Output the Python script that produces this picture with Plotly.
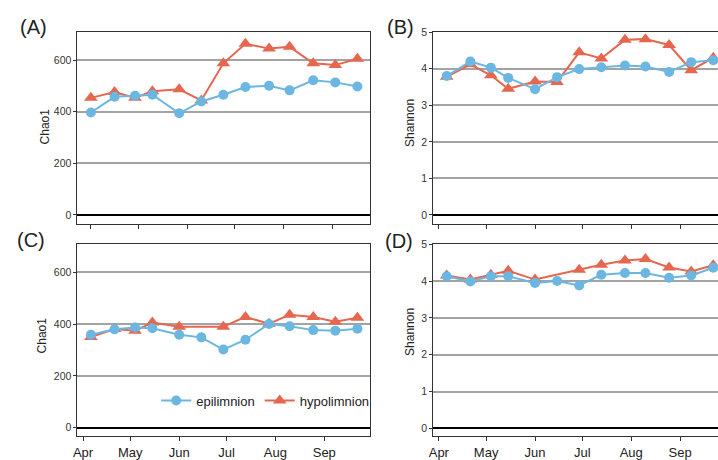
import plotly.graph_objects as go

# ---------------- data ----------------
dates = ["2019-04-06", "2019-04-21", "2019-05-04", "2019-05-15", "2019-06-01",
         "2019-06-15", "2019-06-29", "2019-07-13", "2019-07-28", "2019-08-10",
         "2019-08-25", "2019-09-08", "2019-09-22"]

chao1_epi_top = [397, 458, 462, 466, 394, 440, 466, 496, 501, 483, 522, 514, 498]
chao1_hypo_top = [454, 477, 454, 480, 487, 444, 588, 664, 645, 652, 588, 581, 606]
shannon_epi_top = [3.80, 4.20, 4.03, 3.75, 3.44, 3.77, 3.99, 4.04, 4.09, 4.06, 3.91, 4.18, 4.23]
shannon_hypo_top = [3.78, 4.12, 3.82, 3.45, 3.65, 3.64, 4.45, 4.28, 4.79, 4.81, 4.65, 3.96, 4.30]

chao1_epi_bot = [359, 380, 387, 384, 359, 349, 302, 340, 401, 392, 377, 375, 382]
chao1_hypo_bot = [350, 381, 375, 406, 390, None, 390, 428, 402, 436, 428, 409, 425]
shannon_epi_bot = [4.13, 3.99, 4.13, 4.13, 3.95, 4.00, 3.88, 4.17, 4.22, 4.22, 4.09, 4.15, 4.36]
shannon_hypo_bot = [4.15, 4.04, 4.17, 4.28, 4.04, None, 4.31, 4.44, 4.56, 4.60, 4.37, 4.26, 4.43]

month_ticks = ["2019-04-01", "2019-05-01", "2019-06-01", "2019-07-01", "2019-08-01", "2019-09-01"]
month_ticks_a = ["2019-04-06", "2019-05-06", "2019-06-06", "2019-07-06", "2019-08-06", "2019-09-06"]
month_labels = ["Apr", "May", "Jun", "Jul", "Aug", "Sep"]

panel_labels = ["(A)", "(B)", "(C)", "(D)"]
series_names = ["epilimnion", "hypolimnion"]

BLUE = "#6cb7e2"
RED = "#e6674f"
FRAME = "#333333"
GRID = "#a3a3a3"
FONT = "Liberation Sans, Arial, sans-serif"

W, H = 718, 460

fig = go.Figure()

panels = [
    ("x", "y", chao1_epi_top, chao1_hypo_top, True),
    ("x2", "y2", shannon_epi_top, shannon_hypo_top, False),
    ("x3", "y3", chao1_epi_bot, chao1_hypo_bot, False),
    ("x4", "y4", shannon_epi_bot, shannon_hypo_bot, False),
]

for xa, ya, epi, hypo, show in panels:
    fig.add_trace(go.Scatter(
        x=dates, y=hypo, xaxis=xa, yaxis=ya, name=series_names[1],
        mode="lines+markers", connectgaps=True, legendrank=2,
        line=dict(color=RED, width=2),
        marker=dict(symbol="triangle-up", size=12, color=RED),
        showlegend=show, legendgroup="h"))
    fig.add_trace(go.Scatter(
        x=dates, y=epi, xaxis=xa, yaxis=ya, name=series_names[0],
        mode="lines+markers", legendrank=1,
        line=dict(color=BLUE, width=2),
        marker=dict(symbol="circle", size=10, color=BLUE),
        showlegend=show, legendgroup="e"))

# geometry (pixels)
left_l, right_l = 73, 367.7
left_r = 431.3
top_t, bot_t = 27, 224.4
top_b, bot_b = 245.7, 444

def px_x(p):
    return p / W

def px_y(p):
    return 1 - p / H

range_full = ["2019-03-28 12:00", "2019-09-30 02:00"]
range_cut = ["2019-03-28 12:00", "2019-09-25 00:00"]

def xaxis(domain, rng, anchor, tickvals, labels):
    return dict(
        type="date", domain=domain, range=rng, anchor=anchor,
        showline=True, linecolor=FRAME, linewidth=1, mirror=True,
        showgrid=False, zeroline=False,
        ticks="outside", ticklen=4, tickcolor=FRAME, tickwidth=1,
        tickvals=tickvals, ticktext=month_labels,
        showticklabels=labels,
        tickfont=dict(family=FONT, size=13, color="#222222"),
    )

def yaxis(domain, rng, anchor, dtick, mirror):
    return dict(
        domain=domain, range=rng, anchor=anchor,
        showline=True, linecolor=FRAME, linewidth=1, mirror=mirror,
        showgrid=True, gridcolor=GRID, gridwidth=1.5,
        zeroline=True, zerolinecolor="#000000", zerolinewidth=2,
        tick0=0, dtick=dtick,
        ticks="outside", ticklen=3, tickcolor=FRAME, tickwidth=1,
        tickfont=dict(family=FONT, size=10.5, color="#333333"),
    )

chao_rng = [-33.75, 708.75]
shan_rng_t = [-0.235, 5.0]
shan_rng_b = [-0.22, 5.0]

fig.update_layout(
    width=W, height=H,
    margin=dict(l=0, r=0, t=0, b=0),
    paper_bgcolor="white", plot_bgcolor="white",
    font=dict(family=FONT, color="#222222"),
    xaxis=xaxis([px_x(left_l), px_x(right_l)], range_full, "y", month_ticks_a, False),
    xaxis2=xaxis([px_x(left_r), 1.0], range_cut, "y2", month_ticks, False),
    xaxis3=xaxis([px_x(left_l), px_x(right_l)], range_full, "y3", month_ticks, True),
    xaxis4=xaxis([px_x(left_r), 1.0], range_cut, "y4", month_ticks, True),
    yaxis=yaxis([px_y(bot_t), px_y(top_t)], chao_rng, "x", 200, True),
    yaxis2=yaxis([px_y(bot_t), px_y(top_t)], shan_rng_t, "x2", 1, False),
    yaxis3=yaxis([px_y(bot_b), px_y(top_b)], chao_rng, "x3", 200, True),
    yaxis4=yaxis([px_y(bot_b), px_y(top_b)], shan_rng_b, "x4", 1, False),
    legend=dict(
        orientation="h", x=px_x(262), xanchor="center", y=px_y(407), yanchor="middle",
        bgcolor="rgba(0,0,0,0)", font=dict(family=FONT, size=13, color="#222222"),
        itemwidth=30, traceorder="normal",
    ),
)

# panel letters
label_pos = [(29, 22), (398, 22), (26, 241), (397, 242)]
for txt, (px, py) in zip(panel_labels, label_pos):
    fig.add_annotation(text=txt, x=px_x(px), y=px_y(py), xref="paper", yref="paper",
                       showarrow=False, xanchor="center", yanchor="middle",
                       font=dict(family=FONT, size=20, color="#222222"))

# axis titles
title_pos = [("Chao1", 40.5, 124), ("Shannon", 408.5, 121), ("Chao1", 37, 340), ("Shannon", 408, 336)]
for txt, px, py in title_pos:
    fig.add_annotation(text=txt, x=px_x(px), y=px_y(py), xref="paper", yref="paper",
                       showarrow=False, xanchor="center", yanchor="middle", textangle=-90,
                       font=dict(family=FONT, size=12, color="#222222"))

fig.write_html("out.html")
